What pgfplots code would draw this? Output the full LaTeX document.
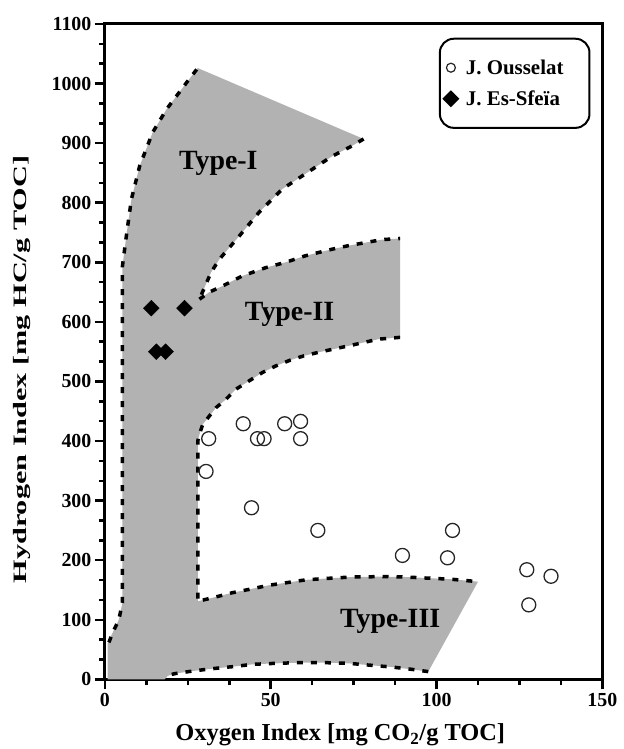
\documentclass[border=0pt]{standalone}
\usepackage{fontspec}
\setmainfont{Liberation Serif}
\usepackage{graphicx}
\usepackage{pgfplots}
\pgfplotsset{compat=1.18}
\newcommand{\legfont}{\fontsize{21}{23}\selectfont\bfseries}
\begin{document}
\begin{tikzpicture}
\begin{axis}[
  scale only axis,
  width=498bp, height=656bp,
  xmin=0, xmax=150, ymin=0, ymax=1100,
  xtick={0,50,100,150}, minor x tick num=3,
  ytick={0,100,...,1100}, minor y tick num=2,
  xtick pos=bottom, ytick pos=left,
  tick align=outside,
  major tick length=10bp, minor tick length=6bp,
  every tick/.style={line width=2.5bp, black},
  axis line style={line width=3bp},
  /pgf/number format/assume math mode=true,
  /pgf/number format/1000 sep={},
  tick label style={font=\fontsize{20}{20}\selectfont\bfseries},
  xlabel={Oxygen Index [mg CO\textsubscript{2}/g TOC]},
  ylabel={\scalebox{1.6}[1]{Hydrogen Index [mg HC/g TOC]}},
  xlabel style={font=\fontsize{24.5}{24.5}\selectfont\bfseries, at={(axis description cs:0.473,-0.093)}, anchor=base},
  ylabel style={font=\fontsize{19}{19}\selectfont\bfseries, at={(axis description cs:-0.1667,0.4726)}, anchor=center},
  legend style={at={(axis description cs:0.976,0.979)}, anchor=north east,
    draw=black, line width=2bp, rounded corners=14bp,
    inner xsep=4bp, inner ysep=19bp, row sep=11bp, column sep=6bp},
  legend cell align=left,
  clip=true,
]
% gray region (Type I + strip + Type II + Type III)
\addplot[fill=black!30, draw=none, forget plot] coordinates {
 (28,1026) (78,907) (74.4,895) (68.5,878) (62.5,856) (53.5,823) (46.5,784) (40.5,744) (34.5,705) (32,683) (28.5,638)
 (31.5,650) (35.4,660) (41.4,677) (48.5,691) (54.5,700) (60.5,711) (68.5,722) (73.5,728) (78.5,733) (83.5,738) (89,740)
 (89,574) (82.5,571) (78.5,566) (74.5,561) (69.5,555) (64.5,549) (60,543) (56,536) (51.5,526) (47.5,515) (43.5,501)
 (39.5,487) (36.5,470) (33.5,456) (31.5,442) (29.5,428) (28.5,411) (28,400) (28,131)
 (32.5,137) (38.5,145.5) (43.5,151) (49.5,158) (54.5,162) (60.5,167) (67.5,169.6) (74.5,171.8) (83.5,172.4) (90.5,171.8)
 (98.5,169.6) (104.5,168) (112.5,164)
 (97.5,13) (92.5,16.8) (86.5,20.7) (80.5,23.5) (73.5,26.9) (66.5,28) (58.5,28) (51.5,26.9) (44.5,25.2) (38.5,21.3)
 (32.5,18) (26.5,14) (21.5,10) (19,6) (18,0)
 (0.8,0) (0.8,60) (2.4,79) (4.2,100) (5.3,129) (5.3,694) (6.6,750) (8,806) (10.5,862) (14.4,918) (18.6,957) (25.5,1008)
} -- cycle;
% dotted boundaries
\pgfplotsset{bnd/.style={black, line width=3.5bp, dash pattern=on 6bp off 8bp, forget plot, mark=none}}
\addplot[bnd] coordinates {
 (1.2,62) (2.4,79) (4.2,100) (5.3,129) (5.3,694) (6.6,750) (8,806) (10.5,862) (14.4,918) (18.6,957) (25.5,1008) (28,1026)};
\addplot[bnd] coordinates {
 (78,907) (74.4,895) (68.5,878) (62.5,856) (53.5,823) (46.5,784) (40.5,744) (34.5,705) (32,683) (28.5,638)};
\addplot[bnd] coordinates {
 (28.5,638) (31.5,650) (35.4,660) (41.4,677) (48.5,691) (54.5,700) (60.5,711) (68.5,722) (73.5,728) (78.5,733) (83.5,738) (89,740)};
\addplot[bnd] coordinates {
 (89,574) (82.5,571) (78.5,566) (74.5,561) (69.5,555) (64.5,549) (60,543) (56,536) (51.5,526) (47.5,515) (43.5,501)
 (39.5,487) (36.5,470) (33.5,456) (31.5,442) (29.5,428) (28.5,411) (28,400) (28,131)
 (32.5,137) (38.5,145.5) (43.5,151) (49.5,158) (54.5,162) (60.5,167) (67.5,169.6) (74.5,171.8) (83.5,172.4) (90.5,171.8)
 (98.5,169.6) (104.5,168) (112.5,164)};
\addplot[bnd] coordinates {
 (97.5,13) (92.5,16.8) (86.5,20.7) (80.5,23.5) (73.5,26.9) (66.5,28) (58.5,28) (51.5,26.9) (44.5,25.2) (38.5,21.3)
 (32.5,18) (26.5,14) (21.5,10) (19,7)};
% labels of types
\node[font=\fontsize{28}{28}\selectfont\bfseries, anchor=base] at (axis cs:34.2,856) {Type-I};
\node[font=\fontsize{28}{28}\selectfont\bfseries, anchor=base] at (axis cs:55.7,603) {Type-II};
\node[font=\fontsize{28}{28}\selectfont\bfseries, anchor=base] at (axis cs:86,87) {Type-III};
% data
\addplot[only marks, mark=o, mark size=7bp, black!85, line width=1.3bp, forget plot] coordinates {
 (31.3,404) (41.7,429) (46,404) (48,404) (54.2,429) (59,433) (59,404) (30.5,349) (44.2,288) (64.2,250)
 (104.8,250) (89.7,208) (103.3,204) (127.2,184) (134.5,173) (127.8,125)};
\addplot[only marks, mark=square*, mark size=5.6bp, mark options={rotate=45}, black, forget plot] coordinates {
 (14,623) (24,623) (15.5,550) (18.3,550)};
% legend
\addlegendimage{only marks, mark=o, mark size=4.5bp, black!85, line width=1.2bp, mark options={sharp corners, solid}}
\addlegendentry{\legfont J. Ousselat\rule{20bp}{0pt}}
\addlegendimage{only marks, mark=square*, mark size=5bp, black, mark options={rotate=45, sharp corners, solid}}
\addlegendentry{\legfont J. Es-Sfeïa\rule{20bp}{0pt}}
\end{axis}
\path ([shift={(-105bp,-69bp)}]current axis.south west) rectangle ([shift={(21bp,24bp)}]current axis.north east);
\end{tikzpicture}
\end{document}
